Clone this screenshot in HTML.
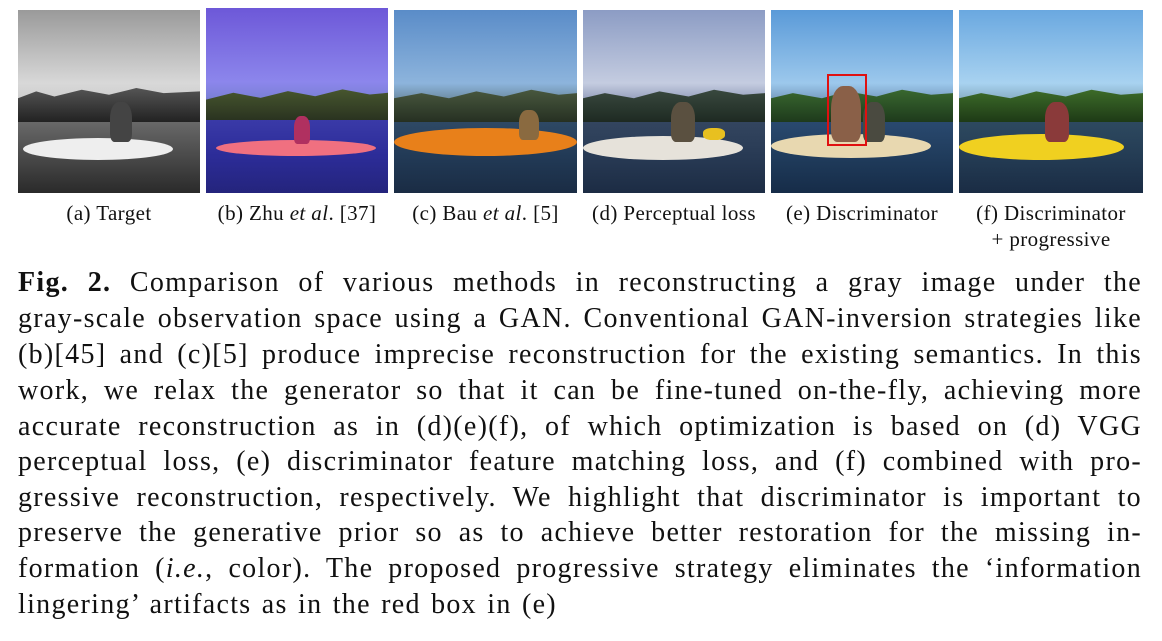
<!DOCTYPE html>
<html><head><meta charset="utf-8">
<style>
html,body{margin:0;padding:0;background:#fff;}
body{width:1162px;height:641px;position:relative;overflow:hidden;font-family:"Liberation Serif",serif;color:#111;}
.img{position:absolute;top:10px;height:183px;overflow:hidden;}
.trees{position:absolute;left:0;right:0;top:78px;height:34px;}
.kayak{position:absolute;border-radius:50%;}
.person{position:absolute;border-radius:40% 40% 20% 20%;}
.lab{position:absolute;top:200px;font-size:21px;letter-spacing:0.4px;text-align:center;line-height:26px;white-space:nowrap;}
.cap{position:absolute;left:18px;width:1124px;font-size:28px;letter-spacing:1.3px;word-spacing:2px;line-height:36px;text-align:justify;text-align-last:justify;white-space:nowrap;}
.cap.last{text-align-last:left;}
</style></head><body>

<div class="img" style="left:18px;width:182px;background:linear-gradient(#9a9a9a,#d8d8d8 40%,#cfcfcf 48%,#6a6a6a 60%,#4a4a4a 80%,#2a2a2a);">
 <div class="trees" style="background:linear-gradient(#555,#222);clip-path:polygon(0 30%,10% 10%,20% 25%,35% 5%,50% 20%,65% 0,80% 15%,100% 10%,100% 100%,0 100%);"></div>
 <div class="kayak" style="left:5px;top:128px;width:150px;height:22px;background:#eee;"></div>
 <div class="person" style="left:92px;top:92px;width:22px;height:40px;background:#444;"></div>
</div>

<div class="img" style="left:206px;top:8px;height:185px;width:182px;background:linear-gradient(#6d58d8,#8c86ec 40%,#7c80d8 48%,#3a3aa8 60%,#2c2c98 80%,#24247c);">
 <div class="trees" style="background:linear-gradient(#4a5a30,#2a3320);clip-path:polygon(0 40%,15% 20%,30% 35%,45% 15%,60% 30%,75% 10%,90% 25%,100% 20%,100% 100%,0 100%);"></div>
 <div class="kayak" style="left:10px;top:132px;width:160px;height:16px;background:#f07080;"></div>
 <div class="person" style="left:88px;top:108px;width:16px;height:28px;background:#b03060;"></div>
</div>

<div class="img" style="left:394px;width:183px;background:linear-gradient(#5a8cc8,#8db4dc 40%,#7090a8 48%,#2f4a66 60%,#223a56 80%,#1a2c44);">
 <div class="trees" style="background:linear-gradient(#4a5a40,#263022);clip-path:polygon(0 30%,15% 15%,30% 30%,45% 10%,60% 25%,75% 5%,90% 20%,100% 15%,100% 100%,0 100%);"></div>
 <div class="kayak" style="left:0px;top:118px;width:183px;height:28px;background:#e8801a;"></div>
 <div class="person" style="left:125px;top:100px;width:20px;height:30px;background:#8a6a40;"></div>
</div>

<div class="img" style="left:583px;width:182px;background:linear-gradient(#8c9cc4,#c4cce0 40%,#9aa4c0 48%,#344660 60%,#283a54 80%,#1c2c44);">
 <div class="trees" style="background:linear-gradient(#3a4a40,#1e2a22);clip-path:polygon(0 30%,12% 15%,28% 30%,42% 10%,58% 25%,72% 5%,88% 20%,100% 15%,100% 100%,0 100%);"></div>
 <div class="kayak" style="left:0px;top:126px;width:160px;height:24px;background:#e6e2da;"></div>
 <div class="person" style="left:88px;top:92px;width:24px;height:40px;background:#5a5040;"></div>
 <div style="position:absolute;left:120px;top:118px;width:22px;height:12px;background:#e8c020;border-radius:40%;"></div>
</div>

<div class="img" style="left:771px;width:182px;background:linear-gradient(#5a9ad8,#9cc8ec 40%,#7aa0c4 48%,#2a4a70 60%,#203c5c 80%,#162c48);">
 <div class="trees" style="background:linear-gradient(#3a6a30,#1e3a1c);clip-path:polygon(0 30%,12% 15%,28% 30%,42% 10%,58% 25%,72% 5%,88% 20%,100% 15%,100% 100%,0 100%);"></div>
 <div class="kayak" style="left:0px;top:124px;width:160px;height:24px;background:#e8d8b0;"></div>
 <div class="person" style="left:92px;top:92px;width:22px;height:40px;background:#4a4a40;"></div>
 <div class="person" style="left:60px;top:76px;width:30px;height:56px;background:#8a6048;"></div>
 <div style="position:absolute;left:56px;top:64px;width:36px;height:68px;border:2px solid #e01010;"></div>
</div>

<div class="img" style="left:959px;width:184px;background:linear-gradient(#6aa8e0,#a8d2f0 40%,#8ab0c8 48%,#2e4a60 60%,#243c54 80%,#1a2c44);">
 <div class="trees" style="background:linear-gradient(#3e6e2a,#1e3a16);clip-path:polygon(0 30%,12% 15%,28% 30%,42% 10%,58% 25%,72% 5%,88% 20%,100% 15%,100% 100%,0 100%);"></div>
 <div class="kayak" style="left:0px;top:124px;width:165px;height:26px;background:#f0d020;"></div>
 <div class="person" style="left:86px;top:92px;width:24px;height:40px;background:#8a3a3a;"></div>
</div>

<div class="lab" style="left:18px;width:182px;">(a) Target</div>
<div class="lab" style="left:196px;width:202px;">(b) Zhu <i>et al</i>. [37]</div>
<div class="lab" style="left:384px;width:203px;">(c) Bau <i>et al</i>. [5]</div>
<div class="lab" style="left:573px;width:202px;">(d) Perceptual loss</div>
<div class="lab" style="left:761px;width:202px;">(e) Discriminator</div>
<div class="lab" style="left:949px;width:204px;">(f) Discriminator<br>+ progressive</div>

<div>
<div class="cap" style="top:265px;"><b>Fig. 2.</b> Comparison of various methods in reconstructing a gray image under the</div>
<div class="cap" style="top:301px;">gray-scale observation space using a GAN. Conventional GAN-inversion strategies like</div>
<div class="cap" style="top:337px;">(b)[45] and (c)[5] produce imprecise reconstruction for the existing semantics. In this</div>
<div class="cap" style="top:373px;">work, we relax the generator so that it can be fine-tuned on-the-fly, achieving more</div>
<div class="cap" style="top:409px;">accurate reconstruction as in (d)(e)(f), of which optimization is based on (d) VGG</div>
<div class="cap" style="top:444px;">perceptual loss, (e) discriminator feature matching loss, and (f) combined with pro-</div>
<div class="cap" style="top:480px;">gressive reconstruction, respectively. We highlight that discriminator is important to</div>
<div class="cap" style="top:515px;">preserve the generative prior so as to achieve better restoration for the missing in-</div>
<div class="cap" style="top:551px;">formation (<i>i.e.</i>, color). The proposed progressive strategy eliminates the ‘information</div>
<div class="cap last" style="top:587px;">lingering’ artifacts as in the red box in (e)</div>
</div>
</body></html>
